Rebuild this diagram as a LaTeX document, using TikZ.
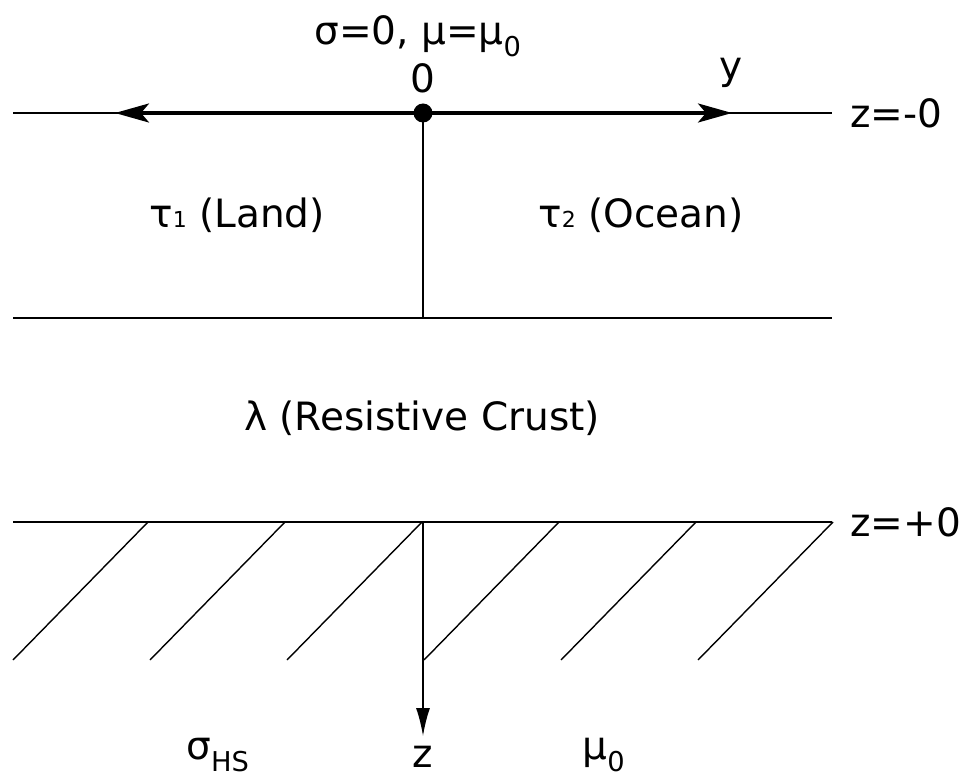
\documentclass[tikz,border=0pt]{standalone}
\usepackage{fontspec}
\setmainfont{DejaVu Sans}
\usetikzlibrary{arrows.meta}
\begin{document}
\begin{tikzpicture}[x=1pt,y=-1pt,
  thin line/.style={line width=1.6pt},
  thick line/.style={line width=3.2pt},
  lbl/.style={font=\fontsize{39}{44}\selectfont, inner sep=0pt},
  axisarrow/.style={-{Stealth[length=34pt,width=19pt,inset=8pt]}},
  zarrow/.style={-{Latex[length=28pt,width=14pt]}}]
\useasboundingbox (0,0) rectangle (962,778);
% coordinates
\coordinate (tl) at (13,113);
\coordinate (tr) at (832,113);
\coordinate (al) at (115,113);
\coordinate (ar) at (732,113);
\coordinate (o) at (423,113);
\coordinate (ml) at (13,318);
\coordinate (mr) at (832,318);
\coordinate (mc) at (423,318);
\coordinate (bl) at (13,522);
\coordinate (br) at (832,522);
\coordinate (bc) at (423,522);
\coordinate (zend) at (423,736);
% top surface
\draw[thin line] (tl) -- (tr);
\draw[thick line,axisarrow] (o) -- (al);
\draw[thick line,axisarrow] (o) -- (ar);
\node[circle,fill=black,minimum width=17pt,minimum height=19pt,inner sep=0pt] (dot) at (o) {};
\draw[thin line] (o) -- (mc);
\draw[thin line] (ml) -- (mr);
\draw[thin line] (bl) -- (br);
% hatching
\foreach \i in {0,...,5}{
  \coordinate (h\i a) at (148+137*\i,522);
  \coordinate (h\i b) at (13+137*\i,660);
  \draw[line width=1.4pt] (h\i a) -- (h\i b);
}
\draw[thin line,zarrow] (bc) -- (zend);
% labels
\node[lbl] (sig) at (418,36) {σ=0, μ=μ\textsubscript{0}};
\node[lbl] (zero) at (423,78) {0};
\node[lbl] (y) at (731,73) {y};
\node[lbl,anchor=west] (zm) at (850,113) {z=-0};
\node[lbl,anchor=west] (zp) at (850,522) {z=+0};
\node[lbl] (land) at (237,215) {τ{\fontsize{22}{22}\selectfont 1} (Land)};
\node[lbl] (ocean) at (641,215) {τ{\fontsize{22}{22}\selectfont 2} (Ocean)};
\node[lbl] (crust) at (422,418) {λ (Resistive Crust)};
\node[lbl] (shs) at (218,755) {σ\textsubscript{HS}};
\node[lbl] (z) at (423,757) {z};
\node[lbl] (mu) at (604,755) {μ\textsubscript{0}};
\end{tikzpicture}
\end{document}
